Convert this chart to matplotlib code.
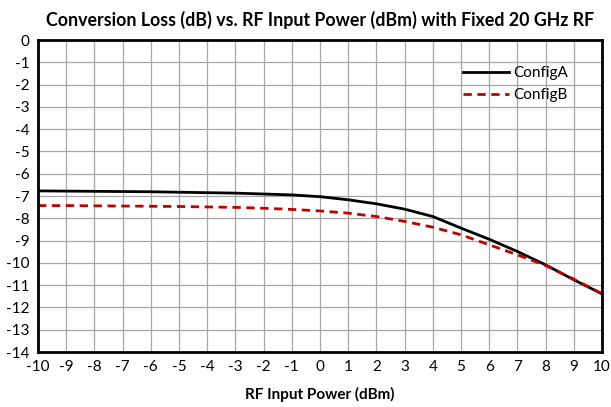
import matplotlib.pyplot as plt

plt.rcParams['font.family'] = ['Lato', 'DejaVu Sans']
plt.rcParams['axes.unicode_minus'] = False

rf_power = [-10, -9, -8, -7, -6, -5, -4, -3, -2, -1, 0, 1, 2, 3, 4, 5, 6, 7, 8, 9, 10]
config_a = [-6.77, -6.78, -6.79, -6.80, -6.81, -6.83, -6.85, -6.87, -6.91, -6.95,
            -7.03, -7.17, -7.35, -7.59, -7.92, -8.44, -8.94, -9.49, -10.09, -10.76, -11.39]
config_b = [-7.43, -7.43, -7.44, -7.45, -7.46, -7.47, -7.49, -7.51, -7.55, -7.60,
            -7.67, -7.77, -7.92, -8.14, -8.40, -8.74, -9.19, -9.64, -10.12, -10.73, -11.39]

fig = plt.figure(figsize=(6.11, 4.07), dpi=100)
ax = fig.add_axes([0.0622, 0.1351, 0.9231, 0.7666])

ax.plot(rf_power, config_a, color='black', lw=2, label='ConfigA')
ax.plot(rf_power, config_b, color='#c00000', lw=2, ls=(0, (3, 2)), label='ConfigB')

ax.set_xlim(-10, 10)
ax.set_ylim(-14, 0)
ax.set_xticks(range(-10, 11))
ax.set_yticks(range(-14, 1))
ax.grid(True, color='#a6a6a6', lw=0.9)
ax.set_axisbelow(True)
ax.tick_params(length=0, labelsize=11, pad=6)
for spine in ax.spines.values():
    spine.set_linewidth(2)
    spine.set_color('black')

ax.set_xlabel('RF Input Power (dBm)', fontsize=11, fontweight='bold', labelpad=9)
ax.set_title('Conversion Loss (dB) vs. RF Input Power (dBm) with Fixed 20 GHz RF',
             fontsize=12.8, fontweight='bold', pad=10)
leg = ax.legend(loc='upper right', bbox_to_anchor=(0.965, 0.96), frameon=False,
                fontsize=11, handlelength=3.0, handletextpad=0.3, labelspacing=0.5)

fig.savefig('out.png', dpi=100)
